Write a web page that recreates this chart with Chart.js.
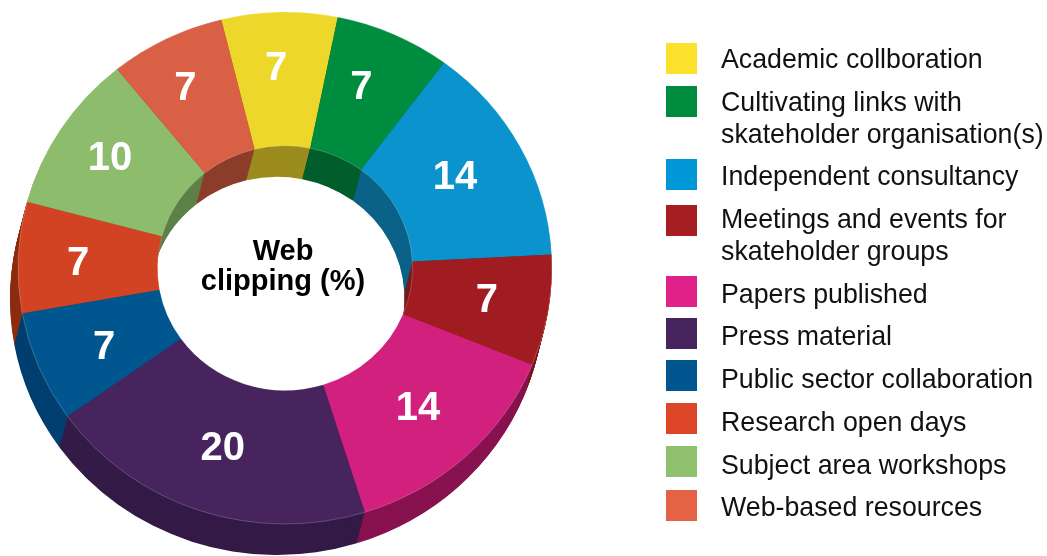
<!DOCTYPE html>
<html>
<head>
<meta charset="utf-8">
<title>Web clipping (%)</title>
<script src="https://cdn.jsdelivr.net/npm/chart.js@4"></script>
<style>
    html, body { margin: 0; padding: 0; background: #fff; }
    #wrap { position: relative; width: 1047px; height: 556px; overflow: hidden; font-family: "Liberation Sans", Arial, sans-serif; }
    #webChart { position: absolute; left: 0; top: 0; }
    #legend { position: absolute; left: 666px; top: 43px; margin: 0; padding: 0; list-style: none; }
    #legend li { position: relative; padding-left: 55px; margin-bottom: 10.7px; font-size: 26.75px; line-height: 32px; color: #111; white-space: pre-line; }
    #legend span { position: absolute; left: 0; top: 0; width: 31px; height: 31px; }
</style>
</head>
<body>
<div id="wrap">
    <canvas id="webChart" width="1047" height="556"></canvas>
    <ul id="legend"></ul>
</div>
<script>
const categories = [
    'Academic collboration',
    'Cultivating links with\nskateholder organisation(s)',
    'Independent consultancy',
    'Meetings and events for\nskateholder groups',
    'Papers published',
    'Press material',
    'Public sector collaboration',
    'Research open days',
    'Subject area workshops',
    'Web-based resources'
];
const values = [7, 7, 14, 7, 14, 20, 7, 7, 10, 7];
const faceColors = ['#edd72a', '#008c3f', '#0a93cc', '#a01c20', '#d1207e', '#47245d', '#00568f', '#d24324', '#8cbc6c', '#d96044'];
const wallColors = ['#9c8c1e', '#005e2c', '#0b6288', '#7a1a1c', '#88124f', '#341a46', '#003f6f', '#8c2d10', '#5d8048', '#8c3e2a'];
const legendColors = ['#fbe12c', '#008c3f', '#0097d6', '#a61e22', '#e0218a', '#47245d', '#00568f', '#dc4527', '#8fc06e', '#e46346'];

// label placement: the original labels are not quite on the slice centres
const labelRadius = [210, 205, 195, 203, 192, 195, 198, 207, 220, 215];
const labelNudgeX = [0, -3, 0, 1, 0, -4, 0, 0, 12, 0];
const labelNudgeY = [0, -1, 0, 3, 6, 1, 1, -2, 0, 2];
const legendBoxNudge = [0, 0, -1, 2, -2, -2, -3, -3, -3, -1];

// the picture is a slightly squashed ring pushed down and left for the 3D side
const squash = 256 / 267;
const depthX = -8;
const depthY = 31;

function ringPath(ctx, a) {
    ctx.beginPath();
    ctx.arc(a.x, a.y, a.outerRadius, a.startAngle, a.endAngle);
    ctx.arc(a.x, a.y, a.innerRadius, a.endAngle, a.startAngle, true);
    ctx.closePath();
}

function squashAt(ctx, a, dx, dy) {
    ctx.translate(dx, dy);
    ctx.translate(a.x, a.y);
    ctx.scale(1, squash);
    ctx.translate(-a.x, -a.y);
}

const ring3d = {
    id: 'ring3d',
    beforeDatasetsDraw(chart) {
        const ctx = chart.ctx;
        const arcs = chart.getDatasetMeta(0).data.map(el =>
            el.getProps(['x', 'y', 'startAngle', 'endAngle', 'innerRadius', 'outerRadius']));

        // sides, deepest layer first
        for (let step = 32; step >= 1; step--) {
            const t = step / 32;
            arcs.forEach((a, i) => {
                ctx.save();
                squashAt(ctx, a, depthX * t, depthY * t);
                ringPath(ctx, a);
                ctx.fillStyle = wallColors[i];
                ctx.fill();
                ctx.restore();
            });
        }

        ctx.save();
        squashAt(ctx, arcs[0], 0, 0);
    },
    afterDatasetsDraw(chart) {
        const ctx = chart.ctx;
        ctx.restore();

        const arcs = chart.getDatasetMeta(0).data.map(el =>
            el.getProps(['x', 'y', 'startAngle', 'endAngle', 'innerRadius', 'outerRadius']));

        // thin light rim on the top face
        arcs.forEach(a => {
            ctx.save();
            squashAt(ctx, a, 0, 0);
            ctx.strokeStyle = 'rgba(255,255,255,0.3)';
            ctx.lineWidth = 0.7;
            ctx.beginPath();
            ctx.arc(a.x, a.y, a.outerRadius, a.startAngle, a.endAngle);
            ctx.stroke();
            ctx.beginPath();
            ctx.arc(a.x, a.y, a.innerRadius, a.startAngle, a.endAngle);
            ctx.stroke();
            ctx.restore();
        });

        // value labels
        ctx.save();
        ctx.fillStyle = '#fff';
        ctx.font = 'bold 40px "Liberation Sans", Arial, sans-serif';
        ctx.textAlign = 'center';
        ctx.textBaseline = 'middle';
        arcs.forEach((a, i) => {
            const mid = (a.startAngle + a.endAngle) / 2 - 0.021;
            const lx = a.x + Math.cos(mid) * labelRadius[i] + labelNudgeX[i];
            const ly = a.y + Math.sin(mid) * labelRadius[i] * squash + labelNudgeY[i];
            ctx.fillText(String(values[i]), lx, ly + 2);
        });

        // centre title
        ctx.fillStyle = '#000';
        ctx.font = 'bold 29px "Liberation Sans", Arial, sans-serif';
        ctx.textBaseline = 'alphabetic';
        ctx.fillText('Web', 283, 260);
        ctx.fillText('clipping (%)', 283, 290);
        ctx.restore();
    }
};

new Chart(document.getElementById('webChart'), {
    type: 'doughnut',
    data: {
        labels: categories,
        datasets: [{
            data: values,
            backgroundColor: faceColors,
            borderWidth: 0
        }]
    },
    options: {
        responsive: false,
        animation: false,
        rotation: -13.8,
        radius: 267,
        cutout: 128,
        layout: { padding: { left: 0, right: 477, top: 0, bottom: 20 } },
        plugins: {
            legend: { display: false },
            tooltip: { enabled: false }
        }
    },
    plugins: [ring3d]
});

const legend = document.getElementById('legend');
categories.forEach((name, i) => {
    const item = document.createElement('li');
    const box = document.createElement('span');
    box.style.background = legendColors[i];
    box.style.top = legendBoxNudge[i] + 'px';
    item.appendChild(box);
    item.appendChild(document.createTextNode(name));
    legend.appendChild(item);
});
</script>
</body>
</html>
